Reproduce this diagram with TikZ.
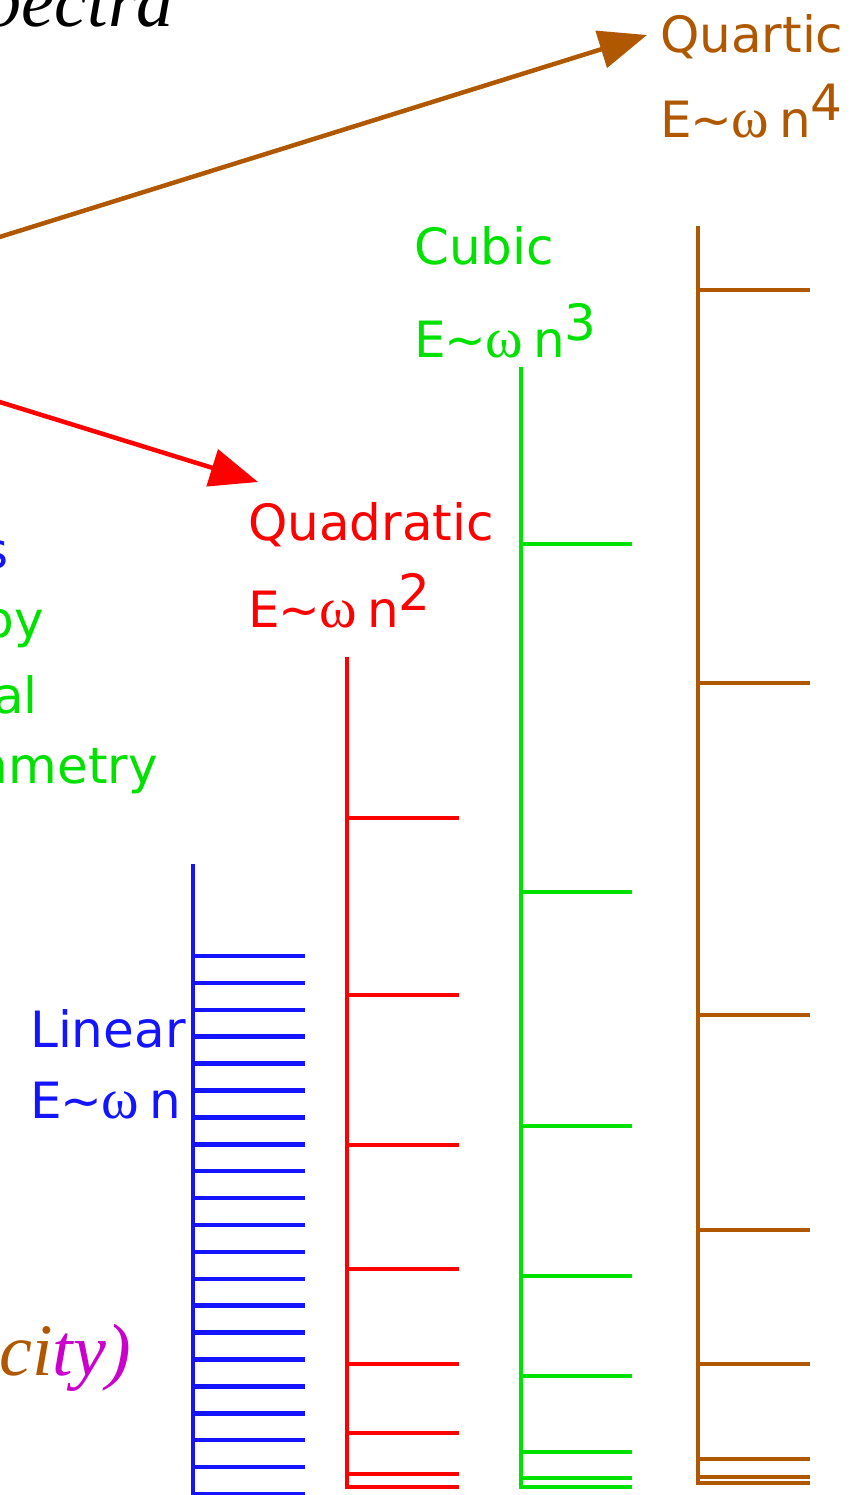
\documentclass[tikz,border=0pt]{standalone}
\usepackage{fontspec}
\setmainfont{DejaVu Sans}
\newfontfamily\serifit{Liberation Serif}
\usetikzlibrary{arrows.meta}
\definecolor{cblue}{RGB}{20,20,255}
\definecolor{cred}{RGB}{255,0,0}
\definecolor{cgreen}{RGB}{0,225,0}
\definecolor{cbrown}{RGB}{176,88,0}
\definecolor{cmag}{RGB}{204,0,204}
\newcommand{\myom}{{\fontsize{57}{57}\selectfont\serifit ω}}
\newcommand{\mylab}[1]{E\kern-1pt\textasciitilde\kern-1pt\myom\hspace{10pt}n\raisebox{17pt}{#1}}
\begin{document}
\begin{tikzpicture}[x=1pt,y=-1pt,
  lbl/.style={anchor=base west,inner sep=0pt,font=\fontsize{50}{60}\selectfont},
  lblr/.style={anchor=base east,inner sep=0pt,font=\fontsize{50}{60}\selectfont},
  big/.style={anchor=base east,inner sep=0pt,font=\fontsize{74}{80}\selectfont\serifit\itshape},
  ladder/.style={line width=4.5pt},
  arr/.style={line width=4.5pt,-{Triangle[length=48pt,width=38pt]}}]
\useasboundingbox (0,0) rectangle (859,1495);
\clip (0,0) rectangle (859,1495);
% titles (clipped at the edge, as in the reference)
\node[big] (title) at (174,27) {Spectra};
\node[big] (city) at (131,1375) {{\color{cbrown}ci}{\color{cmag}ty)}};
\node[lblr,text=cblue] (ls) at (9,568) {s};
\node[lblr,text=cgreen] (lby) at (44,637) {by};
\node[lblr,text=cgreen] (lal) at (38,713) {al};
\node[lblr,text=cgreen] (lsym) at (158,783) {symmetry};
% labels
\node[lbl,text=cbrown] (quartic) at (660,53) {Quartic};
\node[lbl,text=cbrown] (quarticE) at (660,138) {\mylab{4}};
\node[lbl,text=cgreen] (cubic) at (414,265) {Cubic};
\node[lbl,text=cgreen] (cubicE) at (414,357) {\mylab{3}};
\node[lbl,text=cred] (quad) at (248,540) {Quadratic};
\node[lbl,text=cred] (quadE) at (248,627) {\mylab{2}};
\node[lbl,text=cblue] (lin) at (30,1047) {Linear};
\node[lbl,text=cblue] (linE) at (30,1118) {\mylab{}};
% arrows
\coordinate (bstart) at (-10,240);
\coordinate (btip) at (647,35);
\coordinate (rstart) at (-10,399);
\coordinate (rtip) at (258,482);
\draw[arr,cbrown] (bstart) -- (btip);
\draw[arr,cred] (rstart) -- (rtip);
% ladders
\draw[ladder,cblue] (193,864) -- (193,1500);
\foreach \k in {0,...,20}
  \draw[ladder,cblue] ({193},{956+26.9*\k}) -- ({305},{956+26.9*\k});
\draw[ladder,cred] (347,657) -- (347,1489);
\foreach \y in {818,995,1145,1269,1364,1433,1474,1487}
  \draw[ladder,cred] (347,\y) -- (459,\y);
\draw[ladder,cgreen] (521,367) -- (521,1489);
\foreach \y in {544,892,1126,1276,1376,1452,1478,1487}
  \draw[ladder,cgreen] (521,\y) -- (632,\y);
\draw[ladder,cbrown] (698,226) -- (698,1485);
\foreach \y in {290,683,1015,1230,1364,1459,1477,1483}
  \draw[ladder,cbrown] (698,\y) -- (810,\y);
\end{tikzpicture}
\end{document}
